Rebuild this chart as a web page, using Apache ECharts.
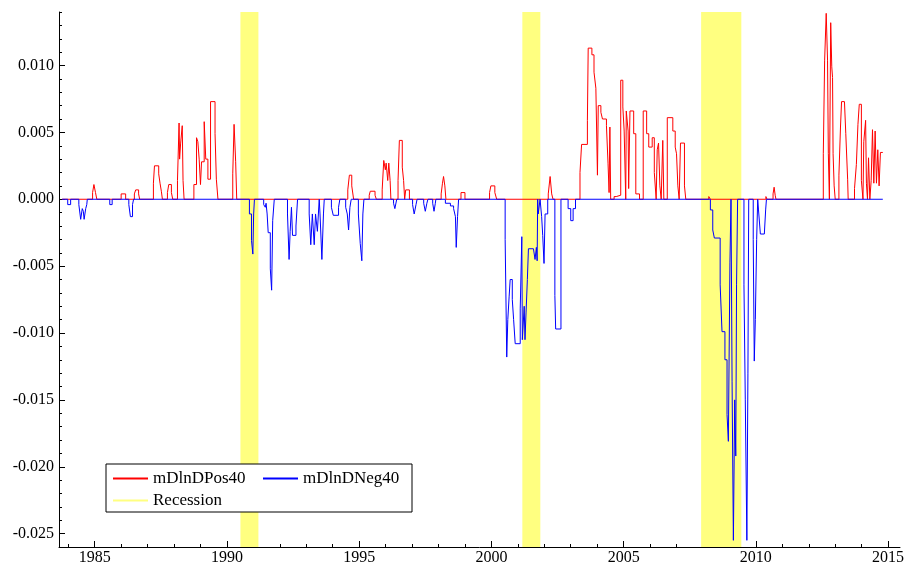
<!DOCTYPE html>
<html>
<head>
<meta charset="utf-8">
<script src="https://cdn.jsdelivr.net/npm/echarts@6/dist/echarts.min.js"></script>
<style>
  html, body { margin: 0; padding: 0; background: #fff; }
  #chart { width: 905px; height: 569px; }
</style>
</head>
<body>
<div id="chart"></div>
<script>
// tick labels
const yearTicks = [1985, 1990, 1995, 2000, 2005, 2010, 2015]
const valueTicks = [-0.025, -0.020, -0.015, -0.010, -0.005, 0, 0.005, 0.010]

// recession periods (start, end) in decimal years
const recessions = [[1990.51, 1991.19], [2001.17, 2001.85], [2007.93, 2009.45]]

// [decimal year, value] - value changes at that date (step line)
const posData = [
  [1983.77, 0],
  [1984.92, 0.0005], [1984.97, 0.0011], [1985.03, 0.0005], [1985.08, 0],
  [1986.00, 0.0004], [1986.17, 0],
  [1986.50, 0.0004], [1986.55, 0.0007], [1986.66, 0.0004], [1986.70, 0],
  [1987.22, 0.0012], [1987.26, 0.0025], [1987.42, 0.0019], [1987.47, 0.0012], [1987.52, 0.0006], [1987.56, 0],
  [1987.75, 0.0005], [1987.80, 0.0011], [1987.90, 0.0005], [1987.95, 0],
  [1988.13, 0.0014], [1988.19, 0.0057], [1988.21, 0.0030], [1988.25, 0.0042], [1988.31, 0.0055], [1988.34, 0.0014], [1988.38, 0],
  [1988.75, 0.0011], [1988.85, 0.0046], [1988.90, 0.0043], [1988.95, 0.0030], [1989.00, 0.0011], [1989.04, 0.0028],
  [1989.14, 0.0058], [1989.20, 0.0030], [1989.28, 0.0015], [1989.38, 0.0073], [1989.55, 0.0049], [1989.60, 0.0015], [1989.66, 0],
  [1990.22, 0.0019], [1990.27, 0.0056], [1990.33, 0.0028], [1990.37, 0],
  [1994.57, 0.0007], [1994.63, 0.0018], [1994.72, 0.0010], [1994.79, 0],
  [1995.38, 0.0003], [1995.42, 0.0006], [1995.60, 0.0003], [1995.65, 0],
  [1995.87, 0.0007], [1995.93, 0.0029], [1995.99, 0.0022], [1996.02, 0.0027], [1996.08, 0.0014], [1996.12, 0.0027], [1996.17, 0.0014], [1996.20, 0],
  [1996.47, 0.0014], [1996.52, 0.0044], [1996.63, 0.0024], [1996.68, 0.0014], [1996.72, 0],
  [1996.76, 0.0007], [1996.90, 0],
  [1998.10, 0.0004], [1998.15, 0.0012], [1998.19, 0.0017], [1998.24, 0.0010], [1998.28, 0],
  [1998.85, 0.0005], [1999.00, 0],
  [1999.93, 0.0005], [1999.98, 0.0010], [2000.13, 0.0005], [2000.20, 0],
  [2002.15, 0.0004], [2002.22, 0.0017], [2002.28, 0.0004], [2002.33, 0],
  [2003.35, 0.0020], [2003.41, 0.0041], [2003.63, 0.0059], [2003.66, 0.0113], [2003.80, 0.0108], [2003.88, 0.0095], [2003.95, 0.0083],
  [2004.01, 0.0018], [2004.04, 0.0070], [2004.14, 0.0065], [2004.20, 0.0060], [2004.35, 0.0055], [2004.41, 0.0027], [2004.45, 0.0005],
  [2004.48, 0.0054], [2004.51, 0],
  [2004.64, 0.0002], [2004.72, 0.0003], [2004.89, 0.0089], [2004.97, 0.0069], [2005.02, 0.0051], [2005.08, 0],
  [2005.10, 0.0066], [2005.17, 0.0051], [2005.19, 0.0008], [2005.24, 0.0066], [2005.38, 0.0049], [2005.46, 0.0004], [2005.60, 0],
  [2005.74, 0.0066], [2005.87, 0.0049], [2005.95, 0.0039], [2006.08, 0.0046], [2006.16, 0.0020], [2006.23, 0],
  [2006.27, 0.0037], [2006.32, 0.0042], [2006.37, 0.0010], [2006.42, 0],
  [2006.48, 0.0044], [2006.52, 0],
  [2006.65, 0.0061], [2006.86, 0.0051], [2006.95, 0.0039], [2007.00, 0.0034], [2007.05, 0.0010], [2007.10, 0],
  [2007.15, 0.0042], [2007.30, 0.0010], [2007.35, 0],
  [2008.22, 0.0002], [2008.28, 0],
  [2010.38, 0.0002], [2010.42, 0],
  [2010.65, 0.0004], [2010.69, 0.0009], [2010.73, 0.0003], [2010.76, 0],
  [2012.55, 0.0034], [2012.60, 0.0104], [2012.66, 0.0139], [2012.71, 0.0104], [2012.74, 0.0034], [2012.78, 0],
  [2012.83, 0.0132], [2012.87, 0.0099], [2012.90, 0.0091], [2012.92, 0.0034], [2012.96, 0.0010], [2013.00, 0],
  [2013.14, 0.0018], [2013.20, 0.0054], [2013.24, 0.0073], [2013.35, 0.0072], [2013.40, 0.0049], [2013.47, 0.0015], [2013.49, 0],
  [2013.73, 0.0008], [2013.80, 0.0026], [2013.86, 0.0056], [2013.91, 0.0071], [2013.99, 0.0014], [2014.05, 0],
  [2014.08, 0.0043], [2014.15, 0.0059], [2014.18, 0.0012], [2014.22, 0],
  [2014.26, 0.0031], [2014.31, 0],
  [2014.36, 0.0014], [2014.41, 0.0052], [2014.46, 0.0012], [2014.51, 0.0051], [2014.56, 0.0012], [2014.61, 0.0037],
  [2014.66, 0.0010], [2014.71, 0.0035], [2014.80, 0.0035]
]

const negData = [
  [1983.77, 0],
  [1983.98, -0.0004], [1984.09, 0],
  [1984.40, -0.0004], [1984.47, -0.0015], [1984.53, -0.0007], [1984.57, -0.0009], [1984.60, -0.0015], [1984.66, -0.0007], [1984.70, -0.0004], [1984.72, 0],
  [1985.57, -0.0004], [1985.66, 0],
  [1986.29, -0.0004], [1986.35, -0.0013], [1986.43, -0.0004], [1986.47, 0],
  [1990.85, -0.0011], [1990.93, -0.0031], [1990.98, -0.0041], [1991.01, -0.0011], [1991.04, 0],
  [1991.39, -0.0004], [1991.45, -0.0006], [1991.48, -0.0003], [1991.52, -0.0011], [1991.56, -0.0025], [1991.64, -0.0052], [1991.69, -0.0068], [1991.73, -0.0016], [1991.79, 0],
  [1992.29, -0.0011], [1992.35, -0.0045], [1992.39, -0.0024], [1992.44, -0.0006], [1992.48, -0.0027], [1992.61, -0.0020], [1992.67, 0],
  [1993.11, -0.0011], [1993.17, -0.0034], [1993.23, -0.0011], [1993.30, -0.0034], [1993.35, -0.0011], [1993.42, -0.0024], [1993.49, 0],
  [1993.52, -0.0011], [1993.59, -0.0045], [1993.65, -0.0011], [1993.68, 0],
  [1993.95, -0.0006], [1994.02, -0.0012], [1994.22, -0.0006], [1994.27, 0],
  [1994.49, -0.0006], [1994.55, -0.0011], [1994.60, -0.0023], [1994.65, -0.0006], [1994.70, 0],
  [1994.97, -0.0011], [1995.04, -0.0033], [1995.10, -0.0046], [1995.14, -0.0011], [1995.18, 0],
  [1996.30, -0.0003], [1996.35, -0.0007], [1996.42, 0],
  [1997.02, -0.0004], [1997.08, -0.0011], [1997.15, -0.0004], [1997.19, 0],
  [1997.44, -0.0003], [1997.50, -0.0009], [1997.56, -0.0003], [1997.60, 0],
  [1997.78, -0.0003], [1997.83, -0.0009], [1997.88, -0.0003], [1997.90, 0],
  [1998.26, -0.0003], [1998.45, -0.0005], [1998.57, -0.0007], [1998.64, -0.0013], [1998.67, -0.0036], [1998.72, -0.0013], [1998.76, 0],
  [2000.52, -0.0030], [2000.58, -0.0118], [2000.62, -0.0090], [2000.67, -0.0073], [2000.71, -0.0060], [2000.79, -0.0075], [2000.84, -0.0090],
  [2000.90, -0.0108], [2001.09, -0.0082], [2001.15, -0.0028], [2001.17, -0.0105], [2001.24, -0.0080], [2001.27, -0.0105], [2001.31, -0.0085],
  [2001.36, -0.0060], [2001.40, -0.0037], [2001.59, -0.0038], [2001.65, -0.0045], [2001.70, -0.0036], [2001.73, -0.0046], [2001.75, 0],
  [2001.77, -0.0011], [2001.84, 0],
  [2001.90, -0.0013], [2001.94, -0.0027], [2001.99, -0.0048], [2002.03, -0.0011], [2002.13, 0],
  [2002.40, -0.0072], [2002.43, -0.0097], [2002.63, 0],
  [2002.90, -0.0007], [2003.00, -0.0016], [2003.09, -0.0007], [2003.18, 0],
  [2008.28, -0.0008], [2008.37, -0.0023], [2008.43, -0.0029], [2008.65, -0.0064], [2008.72, -0.0099], [2008.83, -0.0120],
  [2008.91, -0.0161], [2008.96, -0.0181], [2009.02, -0.0047], [2009.06, 0],
  [2009.10, -0.0136], [2009.15, -0.0255], [2009.20, -0.0150], [2009.24, -0.0192], [2009.27, -0.0064], [2009.31, 0],
  [2009.55, -0.0064], [2009.60, -0.0150], [2009.66, -0.0255], [2009.70, -0.0130], [2009.73, 0],
  [2009.90, -0.0030], [2009.94, -0.0121], [2009.98, -0.0090], [2010.03, -0.0030], [2010.07, 0],
  [2010.10, -0.0008], [2010.17, -0.0026], [2010.32, -0.0026], [2010.37, -0.0008], [2010.40, 0],
  [2014.80, 0]
]

let minorYears = []
for (let y = 1984; y <= 2015; y++) minorYears.push(y)
let minorValues = []
for (let i = -26; i <= 14; i++) minorValues.push(i / 1000)

const font = 'Liberation Serif'
const xMin = 1983.65, xMax = 2015.45
const gridTop = 12, gridBottom = 22, plotHeight = 569 - gridTop - gridBottom

let chart = echarts.init(document.getElementById('chart'))

chart.setOption({
  animation: false,
  backgroundColor: '#fff',
  grid: { left: 59, right: 5, top: gridTop, bottom: gridBottom, containLabel: false, outerBoundsMode: 'none' },
  legend: {
    data: ['mDlnDPos40', 'mDlnDNeg40', 'Recession'],
    left: 106, top: 464, width: 300,
    icon: 'rect',
    itemWidth: 35, itemHeight: 2, itemGap: 5,
    padding: [6, 4, 3, 7],
    borderColor: '#000', borderWidth: 1, backgroundColor: '#fff',
    selectedMode: false,
    formatter: name => '{n|' + name + '}',
    textStyle: {
      fontFamily: font, fontSize: 17, color: '#000',
      rich: { n: { width: 105, height: 13, lineHeight: 13, fontFamily: font, fontSize: 17, color: '#000' } }
    }
  },
  xAxis: [
    {
      type: 'value', min: xMin, max: xMax, position: 'bottom',
      axisLine: { onZero: false, lineStyle: { color: '#000', width: 1 } },
      axisTick: { inside: true, length: 6, customValues: yearTicks, lineStyle: { color: '#000' } },
      axisLabel: {
        customValues: yearTicks, formatter: v => String(v), showMaxLabel: true, hideOverlap: false,
        fontFamily: font, fontSize: 16, color: '#000', margin: 3
      },
      splitLine: { show: false }
    },
    {
      // minor yearly ticks, top axis pushed down onto the bottom edge
      type: 'value', min: xMin, max: xMax, position: 'top', offset: -plotHeight,
      axisLine: { show: false, onZero: false },
      axisTick: { inside: false, length: 3, customValues: minorYears, lineStyle: { color: '#000' } },
      axisLabel: { show: false },
      splitLine: { show: false }
    }
  ],
  yAxis: [
    {
      type: 'value', min: -0.026, max: 0.014, position: 'left',
      axisLine: { show: true, onZero: false, lineStyle: { color: '#000', width: 1 } },
      axisTick: { show: true, inside: true, length: 6, customValues: valueTicks, lineStyle: { color: '#000' } },
      axisLabel: { customValues: valueTicks, formatter: v => v.toFixed(3), fontFamily: font, fontSize: 16, color: '#000', margin: 5 },
      splitLine: { show: false }
    },
    {
      type: 'value', min: -0.026, max: 0.014, position: 'left',
      axisLine: { show: false, onZero: false },
      axisTick: { show: true, inside: true, length: 3, customValues: minorValues, lineStyle: { color: '#000' } },
      axisLabel: { show: false },
      splitLine: { show: false }
    }
  ],
  series: [
    {
      name: 'Recession',
      type: 'line',
      data: [],
      color: '#ffff80',
      lineStyle: { color: '#ffff80', width: 1 },
      symbol: 'none',
      z: 1,
      markArea: {
        silent: true,
        itemStyle: { color: '#ffff80' },
        data: recessions.map(r => [{ xAxis: r[0] }, { xAxis: r[1] }])
      }
    },
    {
      name: 'mDlnDPos40',
      type: 'line',
      data: posData,
      step: 'end',
      symbol: 'none',
      color: '#ff0000',
      lineStyle: { color: '#ff0000', width: 1 },
      z: 2
    },
    {
      name: 'mDlnDNeg40',
      type: 'line',
      data: negData,
      step: 'end',
      symbol: 'none',
      color: '#0000ff',
      lineStyle: { color: '#0000ff', width: 1 },
      z: 3
    }
  ]
})
</script>
</body>
</html>
